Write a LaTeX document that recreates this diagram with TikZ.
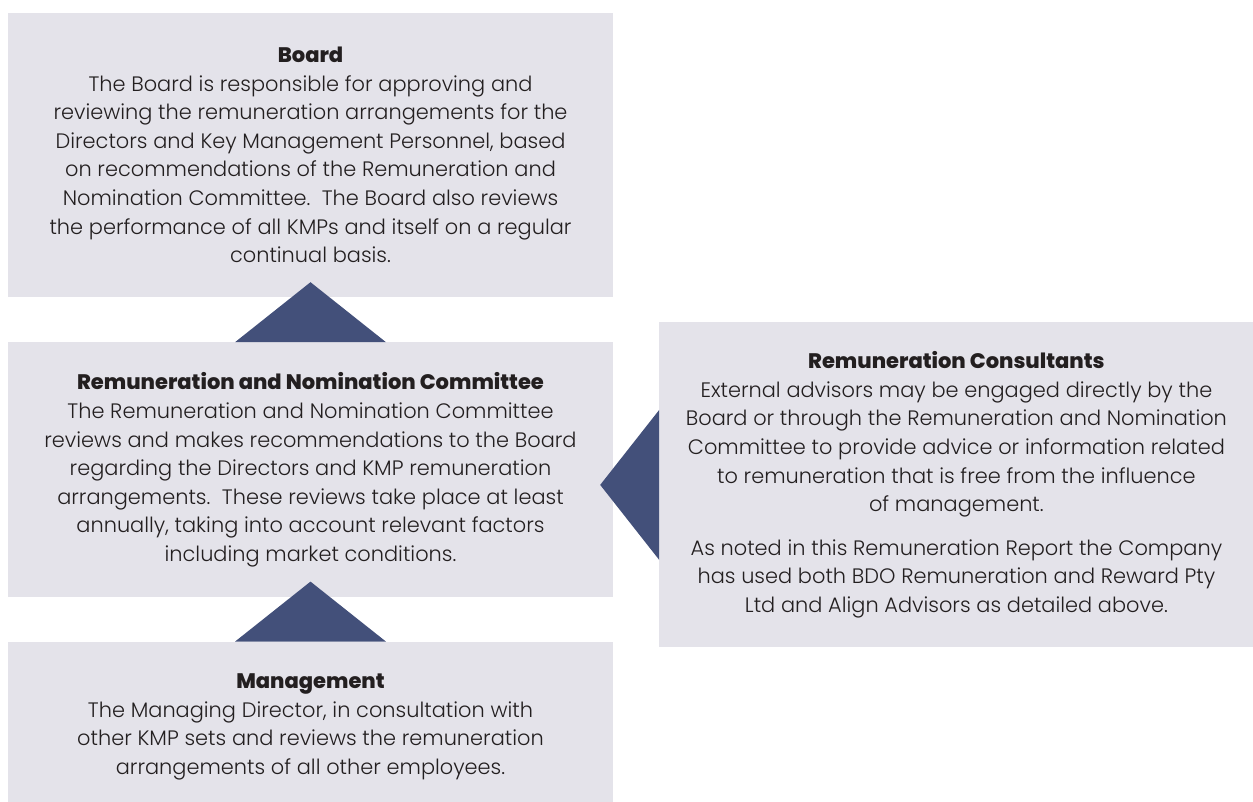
\documentclass[tikz,border=0pt]{standalone}
\usepackage{fontspec}
\setmainfont{Poppins}[UprightFont=* Light, BoldFont=* ExtraBold]
\usepackage{xcolor}
\usetikzlibrary{positioning}
\definecolor{boxgray}{HTML}{E4E3EA}
\definecolor{navy}{HTML}{43507A}
\definecolor{txtgray}{HTML}{231F20}
\newcommand{\headtxt}[1]{{\fontsize{21}{28.6}\selectfont\bfseries #1}}

\begin{document}
\begin{tikzpicture}[x=1pt,y=1pt,
  panel/.style={fill=boxgray,inner sep=0pt,align=center,text=txtgray,
    font=\fontsize{20.9}{28.6}\selectfont}]
\useasboundingbox (0,0) rectangle (1253,-801);
%boxes
\node[panel,minimum width=605pt,minimum height=284pt] (board) at (310.5,-155)
  {\headtxt{Board}\\
   The Board is responsible for approving and\\
   reviewing the remuneration arrangements for the\\
   Directors and Key Management Personnel, based\\
   on recommendations of the Remuneration and\\
   Nomination Committee.\ \ The Board also reviews\\
   the performance of all KMPs and itself on a regular\\
   continual basis.};
\node[panel,minimum width=605pt,minimum height=255pt,below=45pt of board] (rnc)
  {\headtxt{Remuneration and Nomination Committee}\\
   The Remuneration and Nomination Committee\\
   reviews and makes recommendations to the Board\\
   regarding the Directors and KMP remuneration\\
   arrangements.\ \ These reviews take place at least\\
   annually, taking into account relevant factors\\
   including market conditions.};
\node[panel,minimum width=605pt,minimum height=170pt,below=44pt of rnc] (mgmt)
  {\headtxt{Management}\\
   The Managing Director, in consultation with\\
   other KMP sets and reviews the remuneration\\
   arrangements of all other employees.};
\node[panel,minimum width=594pt,minimum height=325pt,right=46pt of rnc,yshift=-15pt] (cons)
  {\headtxt{Remuneration Consultants}\\
   External advisors may be engaged directly by the\\
   Board or through the Remuneration and Nomination\\
   Committee to provide advice or information related\\
   to remuneration that is free from the influence\\
   of management.\\[15pt]
   As noted in this Remuneration Report the Company\\
   has used both BDO Remuneration and Reward Pty\\
   Ltd and Align Advisors as detailed above.};
%triangles
\fill[navy] ([xshift=-75.5pt]rnc.north) -- ([yshift=60pt]rnc.north) -- ([xshift=75.5pt]rnc.north) -- cycle;
\fill[navy] ([xshift=-75.5pt]mgmt.north) -- ([yshift=60pt]mgmt.north) -- ([xshift=75.5pt]mgmt.north) -- cycle;
\fill[navy] ([yshift=75pt]cons.west) -- ([xshift=-59pt]cons.west) -- ([yshift=-75pt]cons.west) -- cycle;
\end{tikzpicture}
\end{document}
